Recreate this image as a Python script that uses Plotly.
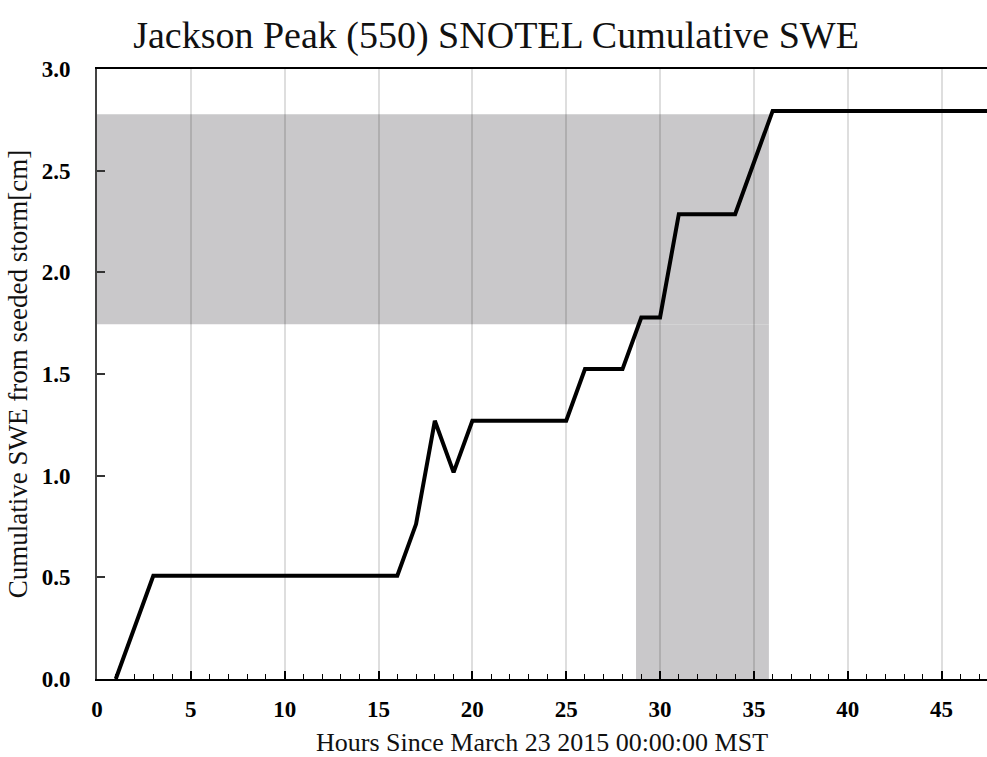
import plotly.graph_objects as go

# Hourly cumulative SWE (cm) at Jackson Peak SNOTEL (site 550)
hours = [1, 2, 3, 4, 5, 6, 7, 8, 9, 10, 11, 12, 13, 14, 15, 16, 17, 18, 19, 20,
         21, 22, 23, 24, 25, 26, 27, 28, 29, 30, 31, 32, 33, 34, 35, 36, 37, 38,
         39, 40, 41, 42, 43, 44, 45, 46, 47, 48]
swe_cm = [0.0, 0.254, 0.508, 0.508, 0.508, 0.508, 0.508, 0.508, 0.508, 0.508,
          0.508, 0.508, 0.508, 0.508, 0.508, 0.508, 0.762, 1.27, 1.016, 1.27,
          1.27, 1.27, 1.27, 1.27, 1.27, 1.524, 1.524, 1.524, 1.778, 1.778,
          2.286, 2.286, 2.286, 2.286, 2.54, 2.794, 2.794, 2.794, 2.794, 2.794,
          2.794, 2.794, 2.794, 2.794, 2.794, 2.794, 2.794, 2.794]

# Seeding window (hours) and the SWE range attributed to it (cm)
seed_window = [28.72, 35.8]
seed_swe_range = [1.745, 2.778]

x_ticks = [0, 5, 10, 15, 20, 25, 30, 35, 40, 45]
y_ticks = [0.0, 0.5, 1.0, 1.5, 2.0, 2.5, 3.0]

SERIF = "Liberation Serif, Times New Roman, serif"
SHADE = "#c9c8ca"

fig = go.Figure()
fig.add_trace(go.Scatter(
    x=hours, y=swe_cm, mode="lines",
    line=dict(color="black", width=4),
    showlegend=False, hoverinfo="x+y",
))

# Shaded band: SWE range across the storm, and the seeding window below it
fig.add_shape(type="rect", xref="x", yref="y", layer="below",
              x0=0, x1=seed_window[1], y0=seed_swe_range[0], y1=seed_swe_range[1],
              fillcolor=SHADE, line_width=0)
fig.add_shape(type="rect", xref="x", yref="y", layer="below",
              x0=seed_window[0], x1=seed_window[1], y0=0, y1=seed_swe_range[0],
              fillcolor=SHADE, line_width=0)

fig.update_layout(
    width=987, height=757,
    margin=dict(l=97, r=0, t=69, b=78),
    paper_bgcolor="white", plot_bgcolor="white",
    title=dict(text="Jackson Peak (550) SNOTEL Cumulative SWE",
               x=496 / 987, xanchor="center", xref="container",
               y=1 - 35 / 757, yanchor="middle", yref="container",
               font=dict(family=SERIF, size=38, color="#111111")),
    font=dict(family=SERIF, color="black"),
)

fig.update_xaxes(
    range=[0, 47.42],
    tickvals=x_ticks, ticktext=[str(v) for v in x_ticks],
    tickfont=dict(family=SERIF, size=23, color="black", weight="bold"),
    ticks="inside", ticklen=8, tickwidth=1.5, tickcolor="black",
    ticklabelstandoff=8,
    minor=dict(dtick=1, ticks="inside", ticklen=5, tickwidth=1.2,
               tickcolor="black", showgrid=False),
    showline=True, linecolor="black", linewidth=2, mirror=True,
    showgrid=True, gridcolor="rgba(0,0,0,0.13)", gridwidth=1.5,
    zeroline=False,
    title=dict(text="Hours Since March 23 2015 00:00:00 MST",
               font=dict(family=SERIF, size=26, color="#111111"),
               standoff=12),
)

fig.update_yaxes(
    range=[0, 3.0],
    tickvals=y_ticks, ticktext=[f"{v:.1f}" for v in y_ticks],
    tickfont=dict(family=SERIF, size=23, color="black", weight="bold"),
    ticks="inside", ticklen=8, tickwidth=1.5, tickcolor="#333333",
    ticklabelstandoff=20,
    showline=True, linecolor="#444444", linewidth=2,
    showgrid=False, zeroline=False,
    title=dict(text="Cumulative SWE from seeded storm[cm]",
               font=dict(family=SERIF, size=27, color="#111111"),
               standoff=6),
)

fig.write_html("out.html")
